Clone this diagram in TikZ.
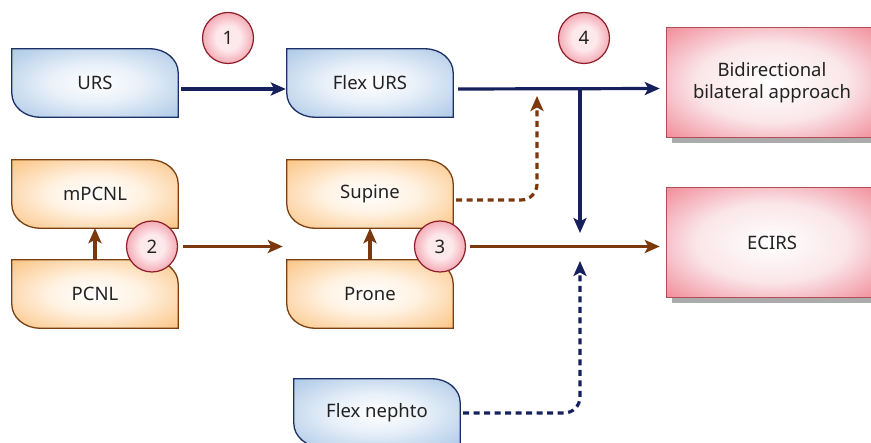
\documentclass[tikz,border=0pt]{standalone}
\usepackage{fontspec}
\setmainfont{Noto Sans}
\usetikzlibrary{arrows.meta,backgrounds}
\definecolor{navy}{RGB}{22,32,92}
\definecolor{brownl}{RGB}{122,56,12}
\definecolor{blueedge}{RGB}{160,192,226}
\definecolor{bluemid}{RGB}{232,240,249}
\definecolor{blueborder}{RGB}{28,48,102}
\definecolor{orangeedge}{RGB}{250,186,112}
\definecolor{orangemid}{RGB}{255,242,226}
\definecolor{orangeborder}{RGB}{122,64,18}
\definecolor{pinkedge}{RGB}{238,108,124}
\definecolor{pinkmid}{RGB}{250,230,233}
\definecolor{pinkborder}{RGB}{178,78,88}
\definecolor{ballin}{RGB}{253,232,236}
\definecolor{ballout}{RGB}{236,112,128}
\definecolor{ballborder}{RGB}{140,30,40}
\definecolor{txt}{RGB}{34,34,34}
\pgfdeclareradialshading{bluesh}{\pgfpoint{0bp}{0bp}}{color(0bp)=(white); color(14bp)=(bluemid); color(40bp)=(blueedge); color(100bp)=(blueedge)}
\pgfdeclareradialshading{orangesh}{\pgfpoint{0bp}{0bp}}{color(0bp)=(white); color(14bp)=(orangemid); color(40bp)=(orangeedge); color(100bp)=(orangeedge)}
\pgfdeclareradialshading{pinksh}{\pgfpoint{0bp}{0bp}}{color(0bp)=(white); color(18bp)=(pinkmid); color(42bp)=(pinkedge); color(100bp)=(pinkedge)}
\pgfdeclareradialshading{ballsh}{\pgfpoint{0bp}{0bp}}{color(0bp)=(ballin); color(12bp)=(ballin); color(38bp)=(ballout); color(100bp)=(ballout)}
\newcommand\procshape[2]{%
  \shadedraw[#2] (#1.north west) -- ([xshift=-28pt]#1.north east)
    arc[start angle=90,end angle=0,x radius=28pt,y radius=24pt] -- (#1.south east)
    -- ([xshift=28pt]#1.south west)
    arc[start angle=270,end angle=180,x radius=28pt,y radius=24pt] -- cycle;}
\tikzset{
  proc/.style={minimum width=166pt,minimum height=68pt,inner sep=0pt,text=txt,font=\fontsize{18.5}{22}\selectfont},
  bluefill/.style={shading=bluesh,draw=blueborder,line width=1.3pt},
  orangefill/.style={shading=orangesh,draw=orangeborder,line width=1.3pt},
  result/.style={minimum width=210pt,minimum height=109pt,inner sep=0pt,text=txt,align=center,font=\fontsize{18.5}{21.5}\selectfont},
  numc/.style={circle,minimum size=51pt,inner sep=0pt,draw=ballborder,line width=1.2pt,shading=ballsh,text=txt,font=\fontsize{18.5}{22}\selectfont},
  conn/.style={line width=3.2pt,-{Stealth[length=15pt,width=13pt,inset=3.5pt]}},
  dots/.style={conn,dash pattern=on 6pt off 4.5pt,rounded corners=16pt}
}
\begin{document}
\begin{tikzpicture}[x=1pt,y=-1pt]
\useasboundingbox (0,0) rectangle (871,443);
\node[proc] (urs) at (95,83) {URS};
\node[proc] (furs) at (370,83) {Flex URS};
\node[proc] (mpcnl) at (95,194) {mPCNL};
\node[proc] (pcnl) at (95,294) {PCNL};
\node[proc] (supine) at (370,194) {Supine};
\node[proc] (prone) at (370,294) {Prone};
\node[proc] (nephto) at (377,413) {Flex nephto};
\node[result] (bid) at (772,82.5) {Bidirectional\\bilateral approach};
\node[result] (ecirs) at (772,242.5) {ECIRS};
\begin{scope}[on background layer]
  \fill[black!33] ([shift={(5pt,-6pt)}]bid.south west) rectangle ([shift={(5pt,-6pt)}]bid.north east);
  \fill[black!33] ([shift={(5pt,-6pt)}]ecirs.south west) rectangle ([shift={(5pt,-6pt)}]ecirs.north east);
  \shadedraw[shading=pinksh,draw=pinkborder,line width=1.3pt] (bid.south west) rectangle (bid.north east);
  \shadedraw[shading=pinksh,draw=pinkborder,line width=1.3pt] (ecirs.south west) rectangle (ecirs.north east);
  \procshape{urs}{bluefill}
  \procshape{furs}{bluefill}
  \procshape{nephto}{bluefill}
  \procshape{mpcnl}{orangefill}
  \procshape{pcnl}{orangefill}
  \procshape{supine}{orangefill}
  \procshape{prone}{orangefill}
\end{scope}
\coordinate (jx) at (580,89);
\coordinate (j1) at (537,96);
\coordinate (j2) at (580,233);
\coordinate (j3) at (580,261);
% connectors
\draw[conn,navy,shorten <=3pt,shorten >=1pt] ([yshift=-6pt]urs.east) -- ([yshift=-6pt]furs.west);
\draw[conn,navy,shorten <=5pt,shorten >=7pt] ([yshift=-6pt]furs.east) -- ([yshift=-6pt]bid.west);
\draw[conn,navy] (jx) -- (j2);
\draw[dots,navy] ([xshift=3pt]nephto.east) -| (j3);
\draw[dots,brownl] ([xshift=3pt,yshift=-6pt]supine.east) -| (j1);
\draw[conn,brownl] (pcnl.north) -- (mpcnl.south);
\draw[conn,brownl] (prone.north) -- (supine.south);
\node[numc] (c1) at (228,38) {1};
\node[numc] (c4) at (584,38) {4};
\node[numc] (c2) at (152,246.5) {2};
\node[numc] (c3) at (440,246.5) {3};
\draw[conn,brownl,shorten <=5pt,shorten >=4pt] (c2.east) -- (c2.east -| supine.west);
\draw[conn,brownl,shorten <=4pt,shorten >=7pt] (c3.east) -- (c3.east -| ecirs.west);
\end{tikzpicture}
\end{document}
